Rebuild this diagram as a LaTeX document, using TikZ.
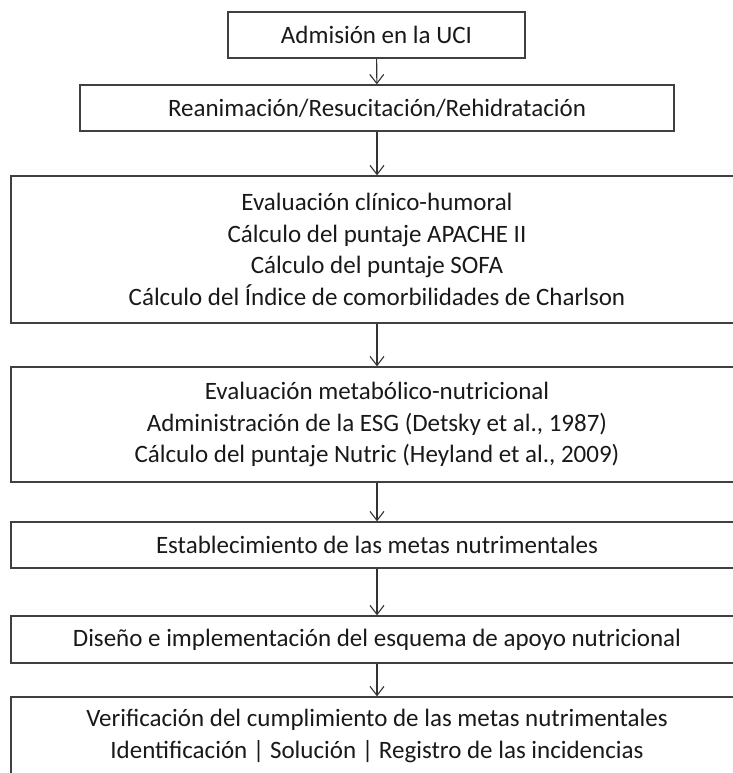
\documentclass[tikz,border=0pt]{standalone}
\usepackage{fontspec}
\setmainfont{Carlito}
\usepackage{tikz}
\usetikzlibrary{arrows.meta}

\begin{document}
\begin{tikzpicture}[x=1pt, y=-1pt,
    >={Straight Barb[length=9pt, width=14pt]},
    paso/.style={draw=black!75, line width=1.4pt, align=center, text=black!90,
                 font=\fontsize{25}{31.5}\selectfont, inner sep=0pt},
    flecha/.style={->, draw=black!80, line width=1.1pt}]
  \useasboundingbox (0,0) rectangle (732,773);

  \node[paso, minimum width=297, minimum height=46] (adm) at (376.5,35) {Admisión en la UCI};
  \node[paso, minimum width=594, minimum height=46] (rean) at (377,108)
      {Reanimación/Resucitación/Rehidratación};
  \node[paso, minimum width=732, minimum height=147] (evcl) at (377,249.5)
      {Evaluación clínico-humoral\\
       Cálculo del puntaje APACHE II\\
       Cálculo del puntaje SOFA\\
       Cálculo del Índice de comorbilidades de Charlson};
  \node[paso, minimum width=732, minimum height=115] (evmet) at (377,424.5)
      {Evaluación metabólico-nutricional\\
       Administración de la ESG (Detsky et al., 1987)\\
       Cálculo del puntaje Nutric (Heyland et al., 2009)};
  \node[paso, minimum width=732, minimum height=46] (metas) at (377,545)
      {Establecimiento de las metas nutrimentales};
  \node[paso, minimum width=732, minimum height=47] (disenio) at (377,639.5)
      {Diseño e implementación del esquema de apoyo nutricional};
  \node[paso, minimum width=732, minimum height=78] (verif) at (377,736)
      {Verificación del cumplimiento de las metas nutrimentales\\
       Identificación | Solución | Registro de las incidencias};

  % flechas entre pasos
  \draw[flecha] (adm) -- (rean);
  \draw[flecha] (rean) -- (evcl);
  \draw[flecha] (evcl) -- (evmet);
  \draw[flecha] (evmet) -- (metas);
  \draw[flecha] (metas) -- (disenio);
  \draw[flecha] (disenio) -- (verif);
\end{tikzpicture}
\end{document}
